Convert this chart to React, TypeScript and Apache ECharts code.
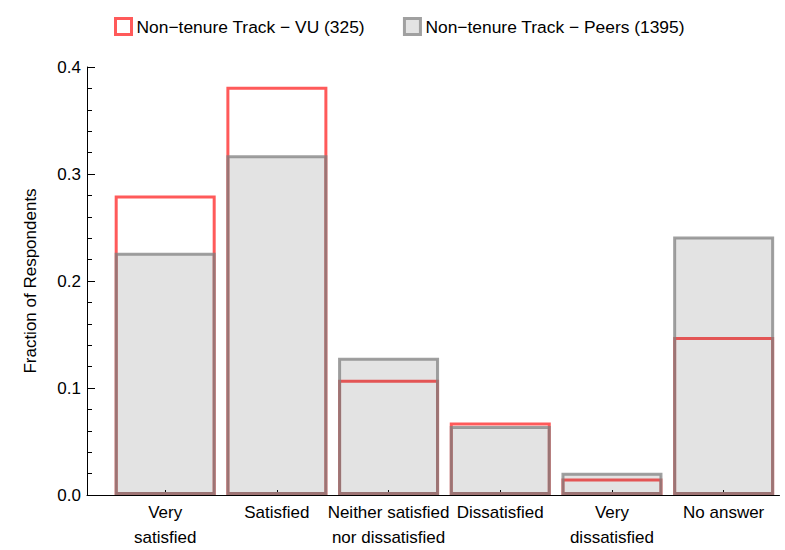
import React, { useEffect, useRef } from "react";
import * as echarts from "echarts";

const categories = [
  "Very\nsatisfied",
  "Satisfied",
  "Neither satisfied\nnor dissatisfied",
  "Dissatisfied",
  "Very\ndissatisfied",
  "No answer",
];
const vuValues = [0.28, 0.3815, 0.1077, 0.0677, 0.0154, 0.1477];
const peersValues = [0.2265, 0.3176, 0.1283, 0.0645, 0.0208, 0.2416];
const seriesNames = ["Non\u2212tenure Track \u2212 VU (325)", "Non\u2212tenure Track \u2212 Peers (1395)"];
const yTicks = [0, 0.1, 0.2, 0.3, 0.4];

const FONT = "'Liberation Sans', Arial, sans-serif";
const RED = "#ff5a5a";
const GRAY_STROKE = "rgba(127,127,127,0.74)";
const GRAY_FILL = "rgba(60,60,60,0.14)";

export default function App() {
  const ref = useRef<HTMLDivElement>(null);
  useEffect(() => {
    if (!ref.current) return;
    const chart = echarts.init(ref.current, null, { renderer: "svg" });
    const idx = categories.map((_, i) => i);
    chart.setOption({
      animation: false,
      textStyle: { fontFamily: FONT },
      legend: {
        left: 114,
        top: 17,
        padding: 0,
        icon: "rect",
        itemWidth: 16,
        itemHeight: 16,
        itemGap: 38,
        textStyle: { fontSize: 17.4, color: "#000", fontFamily: FONT },
        data: [
          { name: seriesNames[0], itemStyle: { color: "#fff", borderColor: RED, borderWidth: 3 } },
          { name: seriesNames[1], itemStyle: { color: "#e3e3e3", borderColor: "#a0a0a0", borderWidth: 3 } },
        ],
      },
      grid: { left: 87, right: 5.5, top: 67, bottom: 52, containLabel: false },
      xAxis: {
        type: "value",
        min: -0.7,
        max: 5.5,
        splitLine: { show: false },
        axisLine: { show: true, onZero: false, lineStyle: { color: "#000", width: 1 } },
        axisTick: { show: true, inside: true, length: 5, customValues: idx, lineStyle: { color: "#000" } },
        axisLabel: {
          customValues: idx,
          formatter: (v: number) => categories[Math.round(v)] ?? "",
          fontSize: 17,
          lineHeight: 25,
          color: "#000",
          margin: 5,
          fontFamily: FONT,
        },
      },
      yAxis: {
        type: "value",
        min: 0,
        max: 0.4,
        interval: 0.1,
        name: "Fraction of Respondents",
        nameLocation: "middle",
        nameRotate: 90,
        nameGap: 48,
        nameTextStyle: { fontSize: 17, color: "#000", fontFamily: FONT },
        splitLine: { show: false },
        axisLine: { show: true, onZero: false, lineStyle: { color: "#000", width: 1 } },
        axisTick: { show: true, inside: true, length: 8, lineStyle: { color: "#000" } },
        minorTick: { show: true, splitNumber: 5, length: 5, lineStyle: { color: "#000" } },
        axisLabel: {
          fontSize: 17,
          color: "#000",
          margin: 6,
          fontFamily: FONT,
          formatter: (v: number) => (yTicks.some((t) => Math.abs(t - v) < 1e-9) ? v.toFixed(1) : ""),
        },
      },
      series: [
        {
          name: seriesNames[0],
          type: "bar",
          barWidth: 101,
          barGap: "-100%",
          data: vuValues.map((v, i) => [i, v]),
          itemStyle: { color: "rgba(255,255,255,0)", borderColor: RED, borderWidth: 3 },
          emphasis: { disabled: true },
        },
        {
          name: seriesNames[1],
          type: "bar",
          barWidth: 101,
          barGap: "-100%",
          data: peersValues.map((v, i) => [i, v]),
          itemStyle: { color: GRAY_FILL, borderColor: GRAY_STROKE, borderWidth: 3 },
          emphasis: { disabled: true },
        },
      ],
    });
    return () => chart.dispose();
  }, []);
  return (
    <div
      ref={ref}
      style={{ position: "fixed", left: 0, top: 0, width: 785, height: 550, background: "#fff" }}
    />
  );
}
